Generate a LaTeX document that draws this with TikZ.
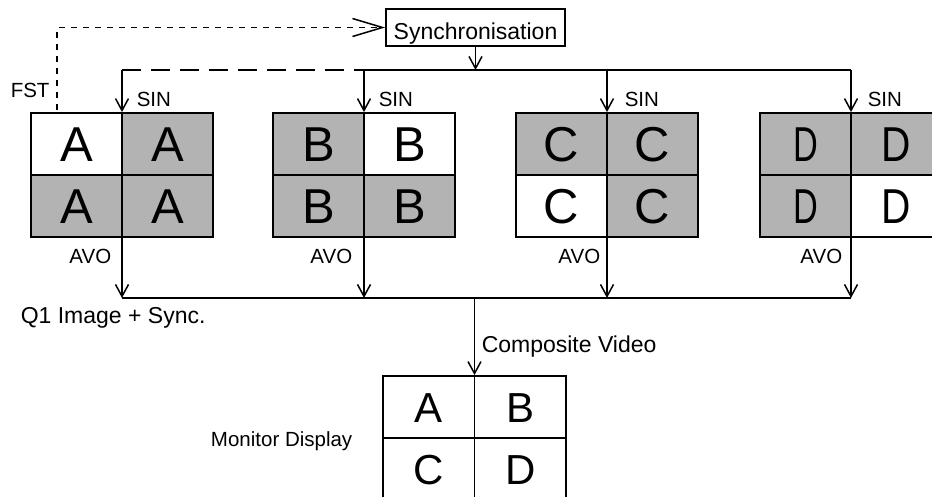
\documentclass[tikz,border=0pt]{standalone}
\usepackage{fontspec}
\usepackage{graphicx}
\setmainfont{Liberation Sans}
\usetikzlibrary{arrows.meta}
\definecolor{cellgray}{RGB}{179,179,179}
\begin{document}
\begin{tikzpicture}[x=1pt,y=-1pt,line width=1.5pt,
  tip/.style={-{Straight Barb[length=12pt,width=13pt]}},
  bigtip/.style={-{Straight Barb[length=30pt,width=18pt]}},
  shortdash/.style={dash pattern=on 6pt off 6pt},
  longdash/.style={dash pattern=on 19pt off 10pt},
  small/.style={font=\fontsize{20.5}{24}\selectfont, inner sep=0pt},
  mainlbl/.style={font=\fontsize{23}{27}\selectfont, inner sep=0pt},
  cell/.style={draw, line width=1.8pt, minimum width=91pt, minimum height=62pt, inner sep=0pt,
    text height=48.5pt, text depth=13.5pt, font=\fontsize{49}{50}\selectfont},
  mcell/.style={draw, line width=1.8pt, minimum width=91.5pt, minimum height=62pt, inner sep=0pt,
    text height=46pt, text depth=16pt, font=\fontsize{42}{44}\selectfont},
  frame/.style={draw, line width=1.8pt, minimum width=182pt, minimum height=124pt, inner sep=0pt},
  g/.style={fill=cellgray}, w/.style={fill=white}]
\useasboundingbox (0,0) rectangle (932,497);
\clip (0,0) rectangle (932,497);

% Grid A
\node[cell,w] at (76.5,144) {A};
\node[cell,g] at (167.5,144) {A};
\node[cell,g] at (76.5,206) {A};
\node[cell,g] at (167.5,206) {A};
\node[frame] (gA) at (122,175) {};
% Grid B
\node[cell,g] at (318.5,144) {B};
\node[cell,w] at (409.5,144) {B};
\node[cell,g] at (318.5,206) {B};
\node[cell,g] at (409.5,206) {B};
\node[frame] (gB) at (364,175) {};
% Grid C
\node[cell,g] at (561.5,144) {C};
\node[cell,g] at (652.5,144) {C};
\node[cell,w] at (561.5,206) {C};
\node[cell,g] at (652.5,206) {C};
\node[frame] (gC) at (607,175) {};
% Grid D
\node[cell,g] at (805.5,144) {\scalebox{0.7}[1]{D}};
\node[cell,g] at (896.5,144) {\scalebox{0.83}[1]{D}};
\node[cell,g] at (805.5,206) {\scalebox{0.7}[1]{D}};
\node[cell,w] at (896.5,206) {\scalebox{0.83}[1]{D}};
\node[frame] (gD) at (851,175) {};

% Synchronisation
\node[draw, line width=1.8pt, mainlbl, minimum width=179pt, text height=31pt, text depth=6pt] (sync) at (475.5,27.5) {Synchronisation};

% Monitor
\node[mcell] at (428.75,407) {A};
\node[mcell] at (520.25,407) {B};
\node[mcell] at (428.75,469) {C};
\node[mcell] at (520.25,469) {D};
\node[draw, line width=1.8pt, minimum width=183pt, minimum height=124pt, inner sep=0pt] (mon) at (474.5,438) {};

% bus coordinates
\coordinate (tA) at (122,70);
\coordinate (tB) at (364,70);
\coordinate (tC) at (607,70);
\coordinate (tD) at (851,70);
\coordinate (ts) at (475.5,70);
\coordinate (bA) at (122,298);
\coordinate (bB) at (364,298);
\coordinate (bC) at (607,298);
\coordinate (bD) at (851,298);
\coordinate (bM) at (474.5,298);
\coordinate (fst) at (57,110);

% top bus
\draw[longdash] (tA) -- (tB);
\draw (tB) -- (tD);
\draw[tip] (sync.south) -- (ts);
\draw[tip] (tA) -- (gA.north);
\draw[tip] (tB) -- (gB.north);
\draw[tip] (tC) -- (gC.north);
\draw[tip] (tD) -- (gD.north);
% FST
\draw[shortdash,bigtip] (fst) |- (sync.west);

% bottom bus
\draw (bA) -- (bD);
\draw[tip] (gA.south) -- (bA);
\draw[tip] (gB.south) -- (bB);
\draw[tip] (gC.south) -- (bC);
\draw[tip] (gD.south) -- (bD);
\draw[tip] (bM) -- (mon.north);

% labels
\node[small, anchor=base west] (lfst) at (10,98) {FST};
\node[small, anchor=base west] (sA) at (136,107) {SIN};
\node[small, anchor=base west] (sB) at (378,107) {SIN};
\node[small, anchor=base west] (sC) at (624,107) {SIN};
\node[small, anchor=base west] (sD) at (867,107) {SIN};
\node[small, anchor=base east] (aA) at (112,263) {AVO};
\node[small, anchor=base east] (aB) at (353,263) {AVO};
\node[small, anchor=base east] (aC) at (601,263) {AVO};
\node[small, anchor=base east] (aD) at (843,263) {AVO};
\node[mainlbl, anchor=base west] (q1) at (20,323) {Q1 Image + Sync.};
\node[mainlbl, anchor=base west] (cv) at (481,352) {Composite Video};
\node[small, anchor=base east] (md) at (353,446) {Monitor Display};
\end{tikzpicture}
\end{document}
